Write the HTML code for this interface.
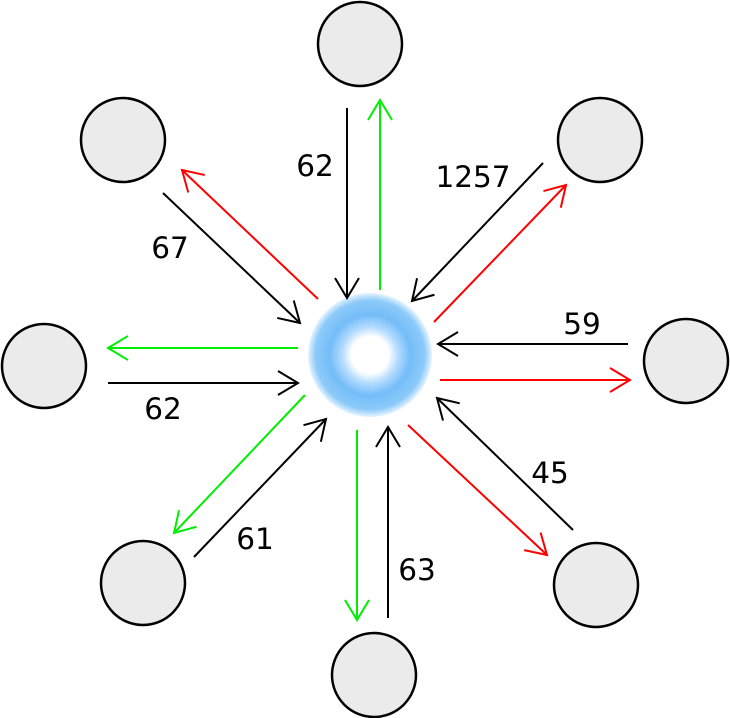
<!DOCTYPE html>
<html><head><style>
html,body{margin:0;padding:0;background:#fff;}
svg{display:block;}
text{font-family:"DejaVu Sans","Liberation Sans",sans-serif;font-size:29.5px;fill:#000;}
</style></head><body>
<svg width="730" height="718" viewBox="0 0 730 718" xmlns="http://www.w3.org/2000/svg">
<defs>
<marker id="mk" markerWidth="24" markerHeight="26" refX="21" refY="13" orient="auto" markerUnits="userSpaceOnUse">
<path d="M1,1 L21,13 L1,25" fill="none" stroke="#000" stroke-width="2"/></marker>
<marker id="mr" markerWidth="24" markerHeight="26" refX="21" refY="13" orient="auto" markerUnits="userSpaceOnUse">
<path d="M1,1 L21,13 L1,25" fill="none" stroke="#f00" stroke-width="2"/></marker>
<marker id="mg" markerWidth="24" markerHeight="26" refX="21" refY="13" orient="auto" markerUnits="userSpaceOnUse">
<path d="M1,1 L21,13 L1,25" fill="none" stroke="#0e0" stroke-width="2"/></marker>
<radialGradient id="rg" cx="50%" cy="50%" r="50%">
<stop offset="0" stop-color="#fff"/>
<stop offset="0.3" stop-color="#fff"/>
<stop offset="0.45" stop-color="#b5dcff"/>
<stop offset="0.65" stop-color="#74bdf8"/>
<stop offset="0.88" stop-color="#8ccaf9"/>
<stop offset="1" stop-color="#e6f4ff"/>
</radialGradient>
</defs>
<g fill="#ebebeb" stroke="#000" stroke-width="2.5">
<circle cx="360" cy="44" r="42"/>
<circle cx="123" cy="140" r="42"/>
<circle cx="600" cy="140" r="42"/>
<circle cx="44" cy="366" r="42"/>
<circle cx="686" cy="361" r="42"/>
<circle cx="143" cy="583" r="42"/>
<circle cx="374" cy="675" r="42"/>
<circle cx="596" cy="585" r="42"/>
</g>
<circle cx="370" cy="355" r="62" fill="url(#rg)"/>
<g stroke-width="2" fill="none">
<line x1="347" y1="108" x2="347" y2="298" stroke="#000" marker-end="url(#mk)"/>
<line x1="380" y1="290" x2="380" y2="100" stroke="#0e0" marker-end="url(#mg)"/>
<line x1="163" y1="193" x2="300" y2="323" stroke="#000" marker-end="url(#mk)"/>
<line x1="318" y1="299" x2="182" y2="170" stroke="#f00" marker-end="url(#mr)"/>
<line x1="543" y1="163" x2="412" y2="301" stroke="#000" marker-end="url(#mk)"/>
<line x1="434" y1="322" x2="566" y2="185" stroke="#f00" marker-end="url(#mr)"/>
<line x1="628" y1="344" x2="438" y2="344" stroke="#000" marker-end="url(#mk)"/>
<line x1="440" y1="380" x2="630" y2="380" stroke="#f00" marker-end="url(#mr)"/>
<line x1="298" y1="348" x2="108" y2="348" stroke="#0e0" marker-end="url(#mg)"/>
<line x1="108" y1="383" x2="298" y2="383" stroke="#000" marker-end="url(#mk)"/>
<line x1="305" y1="395" x2="174" y2="533" stroke="#0e0" marker-end="url(#mg)"/>
<line x1="194" y1="557" x2="326" y2="419" stroke="#000" marker-end="url(#mk)"/>
<line x1="388" y1="618" x2="388" y2="427" stroke="#000" marker-end="url(#mk)"/>
<line x1="357" y1="430" x2="357" y2="620" stroke="#0e0" marker-end="url(#mg)"/>
<line x1="573" y1="530" x2="437" y2="398" stroke="#000" marker-end="url(#mk)"/>
<line x1="408" y1="425" x2="547" y2="555" stroke="#f00" marker-end="url(#mr)"/>
</g>
<text x="315" y="176" text-anchor="middle">62</text>
<text x="473" y="187" text-anchor="middle">1257</text>
<text x="170" y="258" text-anchor="middle">67</text>
<text x="582" y="334" text-anchor="middle">59</text>
<text x="163" y="419" text-anchor="middle">62</text>
<text x="255" y="549" text-anchor="middle">61</text>
<text x="550" y="483" text-anchor="middle">45</text>
<text x="417" y="580" text-anchor="middle">63</text>
</svg>
</body></html>
